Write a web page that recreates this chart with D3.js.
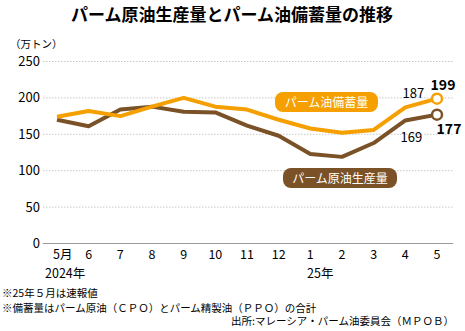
<!DOCTYPE html>
<html>
<head>
<meta charset="utf-8">
<script src="https://cdn.jsdelivr.net/npm/d3@7"></script>
<style>
  body { margin: 0; background: #fff; }
  text { font-family: "Liberation Sans Narrow", "Noto Sans CJK JP", sans-serif; }
</style>
</head>
<body>
<svg id="chart" width="465" height="331"></svg>
<script>
// months, May 2024 .. May 2025
var months = ["5月", "6", "7", "8", "9", "10", "11", "12", "1", "2", "3", "4", "5"];
var yTicks = [0, 50, 100, 150, 200, 250];

// 万トン
var stockValues = [174, 182, 175, 188, 200, 188, 184, 170, 158, 152, 156, 187, 199];
var prodValues  = [170, 161, 184, 188, 181, 180, 162, 148, 123, 119, 138, 169, 177];

var orange = "#f5a000";
var brown = "#7b5227";

var svg = d3.select("#chart");

var x = d3.scalePoint().domain(d3.range(months.length)).range([57, 437]);
var y = d3.scaleLinear().domain([0, 250]).range([243.5, 61.5]);

//          Title
svg.append("text")
    .attr("x", 232).attr("y", 21)
    .attr("text-anchor", "middle")
    .style("font-family", "'Noto Sans CJK JP'")
    .style("font-weight", "bold")
    .style("font-size", "17px")
    .text("パーム原油生産量とパーム油備蓄量の推移");

svg.append("text")
    .attr("x", 10).attr("y", 48)
    .style("font-family", "'Noto Sans CJK JP'")
    .style("font-size", "10.5px")
    .text("（万トン）");

//          Grid + y labels
svg.selectAll("line.grid").data(yTicks.filter(function(d) { return d > 0; })).enter().append("line")
    .attr("class", "grid")
    .attr("x1", 43).attr("x2", 453)
    .attr("y1", function(d) { return y(d); })
    .attr("y2", function(d) { return y(d); })
    .style("stroke", "#c8c8c8")
    .style("stroke-width", 1)
    .style("stroke-dasharray", "1.5,1.5");

svg.append("line")
    .attr("x1", 43).attr("x2", 453)
    .attr("y1", y(0)).attr("y2", y(0))
    .style("stroke", "#999")
    .style("stroke-width", 1.2);

svg.selectAll("text.ytick").data(yTicks).enter().append("text")
    .attr("class", "ytick")
    .attr("x", 40)
    .attr("y", function(d) { return y(d) + 4.5; })
    .attr("text-anchor", "end")
    .style("font-size", "13px")
    .text(function(d) { return d; });

//          x labels
svg.selectAll("text.xtick").data(months).enter().append("text")
    .attr("class", "xtick")
    .attr("x", function(d, i) { return i === 0 ? x(i) - 4 : x(i); })
    .attr("y", 259)
    .attr("text-anchor", function(d, i) { return i === 0 ? "start" : "middle"; })
    .style("font-size", "12.5px")
    .text(function(d) { return d; });

svg.append("text").attr("x", 45).attr("y", 278).style("font-size", "12.5px").text("2024年");
svg.append("text").attr("x", 307).attr("y", 278).style("font-size", "12.5px").text("25年");

//          Lines
var line = d3.line()
    .x(function(d, i) { return x(i); })
    .y(function(d) { return y(d); });

[[prodValues, brown], [stockValues, orange]].forEach(function(s) {
    svg.append("path")
        .datum(s[0])
        .attr("d", line)
        .style("fill", "none")
        .style("stroke", s[1])
        .style("stroke-width", 4)
        .style("stroke-linejoin", "round");
    var last = s[0].length - 1;
    svg.append("circle")
        .attr("cx", x(last)).attr("cy", y(s[0][last]))
        .attr("r", 5)
        .style("fill", "#fff")
        .style("stroke", s[1])
        .style("stroke-width", 2.5);
});

//          Value labels
var n = months.length;
svg.append("text").attr("x", x(n - 2) + 8).attr("y", y(stockValues[n - 2]) - 9)
    .attr("text-anchor", "middle").style("font-size", "13px").text(stockValues[n - 2]);
svg.append("text").attr("x", x(n - 1) + 6).attr("y", y(stockValues[n - 1]) - 9)
    .attr("text-anchor", "middle").style("font-size", "14px").style("font-weight", "bold").text(stockValues[n - 1]);
svg.append("text").attr("x", x(n - 2) + 6).attr("y", y(prodValues[n - 2]) + 22)
    .attr("text-anchor", "middle").style("font-size", "13px").text(prodValues[n - 2]);
svg.append("text").attr("x", x(n - 1) + 12).attr("y", y(prodValues[n - 1]) + 19)
    .attr("text-anchor", "middle").style("font-size", "14px").style("font-weight", "bold").text(prodValues[n - 1]);

//          Series tags
function tag(cx, cy, w, label, color) {
    svg.append("rect")
        .attr("x", cx - w / 2).attr("y", cy - 10)
        .attr("width", w).attr("height", 20)
        .attr("rx", 8)
        .style("fill", color);
    svg.append("text")
        .attr("x", cx).attr("y", cy + 4.5)
        .attr("text-anchor", "middle")
        .style("font-family", "'Noto Sans CJK JP'")
        .style("font-size", "12px")
        .style("fill", "#fff")
        .text(label);
}
tag(326.5, 102, 103, "パーム油備蓄量", orange);
tag(340, 178, 114, "パーム原油生産量", brown);

//          Notes
var notes = ["※25年５月は速報値", "※備蓄量はパーム原油（ＣＰＯ）とパーム精製油（ＰＰＯ）の合計"];
svg.selectAll("text.note").data(notes).enter().append("text")
    .attr("class", "note")
    .attr("x", 2)
    .attr("y", function(d, i) { return 297 + i * 14.5; })
    .style("font-family", "'Noto Sans CJK JP'")
    .style("font-size", "10.5px")
    .text(function(d) { return d; });

svg.append("text")
    .attr("x", 454).attr("y", 325)
    .attr("text-anchor", "end")
    .style("font-family", "'Noto Sans CJK JP'")
    .style("font-size", "10.5px")
    .text("出所:マレーシア・パーム油委員会（ＭＰＯＢ）");
</script>
</body>
</html>
